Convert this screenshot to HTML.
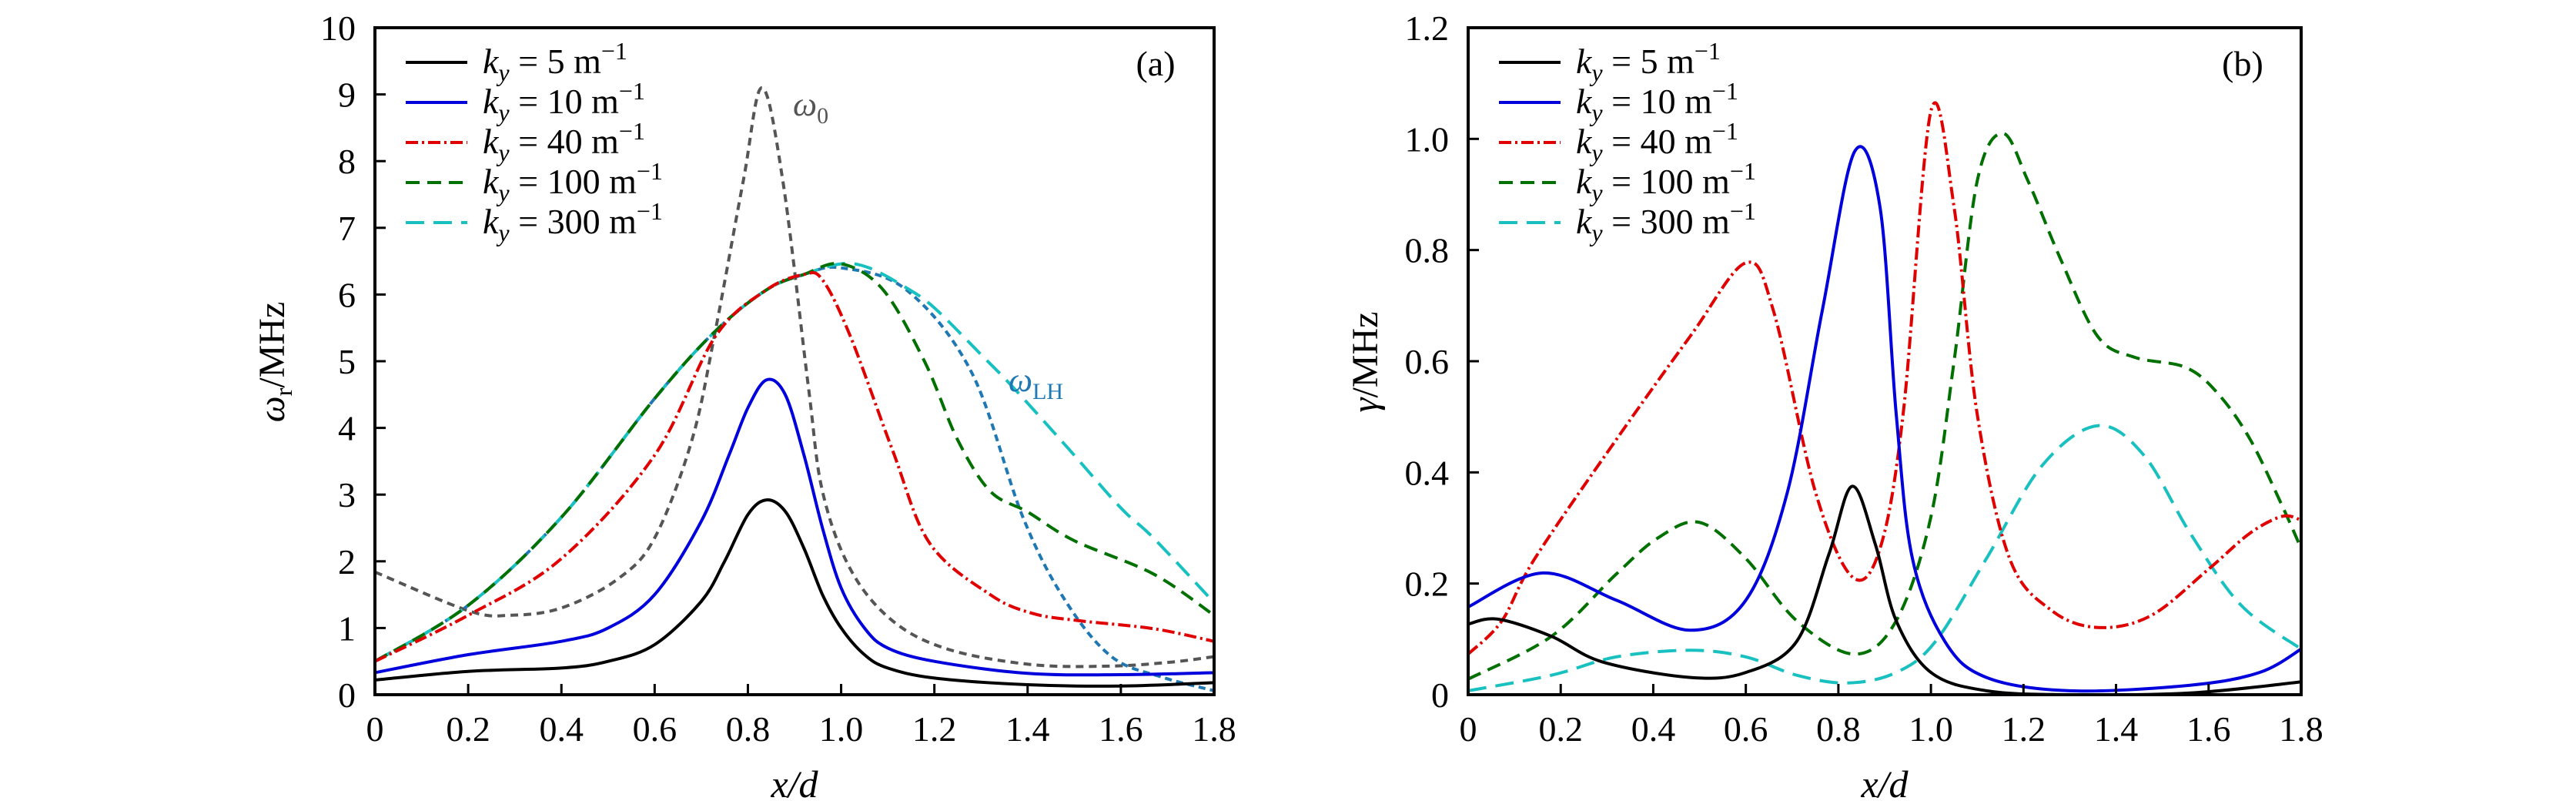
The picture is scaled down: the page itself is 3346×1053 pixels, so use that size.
<!DOCTYPE html>
<html><head><meta charset="utf-8"><style>
html,body{margin:0;padding:0;background:#fff;}
svg{display:block;font-family:"Liberation Serif",serif;}
</style></head><body>
<svg id="fig" width="3346" height="1053" viewBox="0 0 3346 1053" xmlns="http://www.w3.org/2000/svg"></svg>
<script>
// ---------- Panel (a) data ----------
const aX_k5=[0,0.2,0.4,0.5,0.6,0.7,0.75,0.8,0.84,0.88,0.92,0.96,1.0,1.05,1.1,1.2,1.4,1.6,1.8];
const aY_k5=[0.22,0.35,0.4,0.5,0.75,1.4,2.0,2.7,2.92,2.75,2.2,1.5,1.0,0.6,0.4,0.25,0.15,0.13,0.18];
const aX_k10=[0,0.2,0.4,0.5,0.6,0.7,0.76,0.8,0.84,0.88,0.92,0.96,1.0,1.05,1.1,1.2,1.4,1.6,1.8];
const aY_k10=[0.33,0.6,0.8,1.0,1.5,2.6,3.6,4.3,4.72,4.5,3.6,2.5,1.6,1.0,0.7,0.5,0.32,0.3,0.33];
const aX_k40=[0,0.2,0.4,0.6,0.73,0.84,0.92,0.96,1.02,1.11,1.19,1.32,1.41,1.51,1.67,1.8];
const aY_k40=[0.5,1.19,2.04,3.59,5.37,6.07,6.3,6.22,5.37,3.67,2.27,1.5,1.22,1.11,0.99,0.8];
const aX_k100=[0,0.2,0.4,0.6,0.73,0.84,0.92,1.0,1.09,1.18,1.25,1.32,1.4,1.5,1.67,1.8];
const aY_k100=[0.5,1.34,2.66,4.44,5.45,6.07,6.3,6.46,6.07,4.98,3.82,3.05,2.74,2.31,1.81,1.19];
const aX_k300=[0,0.2,0.4,0.6,0.73,0.84,0.92,1.0,1.06,1.14,1.2,1.3,1.37,1.49,1.6,1.67,1.8];
const aY_k300=[0.5,1.34,2.66,4.44,5.45,6.07,6.3,6.46,6.4,6.1,5.8,5.1,4.6,3.67,2.8,2.35,1.38];
const aX_w0=[0,0.2,0.29,0.4,0.52,0.6,0.68,0.73,0.79,0.83,0.875,0.93,0.96,1.02,1.11,1.23,1.41,1.58,1.71,1.8];
const aY_w0=[1.84,1.26,1.19,1.3,1.73,2.35,3.82,5.45,7.7,9.1,7.7,4.6,3.05,1.88,1.11,0.68,0.45,0.43,0.49,0.57];
const aX_wLH=[0,0.2,0.4,0.6,0.73,0.84,0.92,1.0,1.14,1.28,1.39,1.48,1.58,1.69,1.8];
const aY_wLH=[0.5,1.34,2.66,4.44,5.45,6.07,6.3,6.4,6.07,4.83,2.66,1.42,0.57,0.26,0.06];
const aYTicks=[0,1,2,3,4,5,6,7,8,9,10];
const xTicks=[0,0.2,0.4,0.6,0.8,1.0,1.2,1.4,1.6,1.8];
const xTickLabels=["0","0.2","0.4","0.6","0.8","1.0","1.2","1.4","1.6","1.8"];
// ---------- Panel (b) data ----------
const bX_k5=[0,0.064,0.18,0.29,0.48,0.6,0.71,0.78,0.83,0.88,0.925,1.0,1.12,1.3,1.56,1.8];
const bY_k5=[0.127,0.136,0.105,0.059,0.031,0.04,0.096,0.254,0.375,0.27,0.133,0.04,0.007,0.0,0.003,0.023];
const bX_k10=[0,0.16,0.32,0.48,0.6,0.69,0.765,0.835,0.89,0.925,0.96,1.03,1.12,1.3,1.56,1.71,1.8];
const bY_k10=[0.158,0.219,0.17,0.116,0.17,0.365,0.69,0.977,0.877,0.505,0.245,0.096,0.031,0.007,0.017,0.04,0.082];
const bX_k40=[0,0.073,0.144,0.32,0.48,0.6,0.66,0.75,0.83,0.89,0.94,1.0,1.05,1.1,1.17,1.26,1.36,1.475,1.6,1.69,1.76,1.8];
const bY_k40=[0.073,0.133,0.245,0.459,0.645,0.777,0.69,0.366,0.212,0.263,0.505,1.05,0.877,0.505,0.245,0.152,0.121,0.142,0.226,0.291,0.321,0.314];
const bX_k100=[0,0.18,0.32,0.41,0.5,0.6,0.71,0.835,0.925,1.0,1.05,1.1,1.155,1.21,1.28,1.36,1.44,1.55,1.62,1.69,1.76,1.8];
const bY_k100=[0.028,0.105,0.217,0.282,0.31,0.245,0.133,0.073,0.133,0.32,0.6,0.924,1.01,0.924,0.784,0.645,0.607,0.589,0.542,0.459,0.338,0.263];
const bX_k300=[0,0.18,0.32,0.48,0.6,0.71,0.82,0.925,1.01,1.12,1.24,1.36,1.46,1.56,1.67,1.8];
const bY_k300=[0.007,0.035,0.068,0.08,0.068,0.035,0.021,0.04,0.096,0.245,0.412,0.484,0.431,0.291,0.161,0.082];
const bYTicks=[0,0.2,0.4,0.6,0.8,1.0,1.2];
const bYTickLabels=["0","0.2","0.4","0.6","0.8","1.0","1.2"];

const NS="http://www.w3.org/2000/svg";
const svg=document.getElementById('fig');
function mk(tag,attrs,parent){const e=document.createElementNS(NS,tag);for(const k in attrs)e.setAttribute(k,attrs[k]);(parent||svg).appendChild(e);return e;}

function smoothPath(xs,ys,sx,sy){
  const P=xs.map((x,i)=>[sx(x),sy(ys[i])]);
  let d="M"+P[0][0].toFixed(1)+","+P[0][1].toFixed(1);
  for(let i=0;i<P.length-1;i++){
    const p0=P[i-1]||P[i],p1=P[i],p2=P[i+1],p3=P[i+2]||P[i+1];
    const c1=[p1[0]+(p2[0]-p0[0])/6,p1[1]+(p2[1]-p0[1])/6];
    const c2=[p2[0]-(p3[0]-p1[0])/6,p2[1]-(p3[1]-p1[1])/6];
    d+=" C"+c1[0].toFixed(1)+","+c1[1].toFixed(1)+" "+c2[0].toFixed(1)+","+c2[1].toFixed(1)+" "+p2[0].toFixed(1)+","+p2[1].toFixed(1);
  }
  return d;
}

const styles={
 k5:{c:"#000000",d:"none"},
 k10:{c:"#0000dd",d:"none"},
 k40:{c:"#e00000",d:"16,5,3,5"},
 k100:{c:"#007000",d:"18,10"},
 k300:{c:"#18c0c0",d:"24,12"},
 w0:{c:"#555555",d:"10,7"},
 wLH:{c:"#1f78b4",d:"9,6"}
};

function panel(opt){
  const g=mk('g',{});
  
  
  const L=opt.L,R=opt.R,T=36,B=902;
  const sx=v=>L+(v/1.8)*(R-L);
  const sy=v=>B-(v/opt.ymax)*(B-T);
  const clip=mk('clipPath',{id:'clip'+opt.id},g);
  mk('rect',{x:L,y:T,width:R-L,height:B-T},clip);
  const cg=mk('g',{'clip-path':'url(#clip'+opt.id+')'},g);
  opt.series.forEach(s=>{
    const st=styles[s.k];
    const p=mk('path',{d:smoothPath(s.x,s.y,sx,sy),fill:"none",stroke:st.c,'stroke-width':4,'stroke-dasharray':st.d},cg);
    
    
  });
  const fr=mk('rect',{x:L,y:T,width:R-L,height:B-T,fill:"none",stroke:"#000",'stroke-width':4},g);
  
  
  xTicks.forEach((t,i)=>{
    mk('line',{x1:sx(t),x2:sx(t),y1:B,y2:B-14,stroke:"#000",'stroke-width':3},g);
    const tx=mk('text',{x:sx(t),y:962,'font-size':46,'text-anchor':'middle'},g);
    tx.textContent=xTickLabels[i];
    
    
  });
  opt.yt.forEach((t,i)=>{
    mk('line',{x1:L,x2:L+14,y1:sy(t),y2:sy(t),stroke:"#000",'stroke-width':3},g);
    const tx=mk('text',{x:L-25,y:sy(t)+16,'font-size':46,'text-anchor':'end'},g);
    tx.textContent=opt.ytl[i];
    
    
  });
  const xt=mk('text',{x:(L+R)/2,y:1035,'font-size':50,'text-anchor':'middle','font-style':'italic'},g);
  xt.textContent="x/d";
  
  
  const yt=mk('text',{x:0,y:0,'font-size':48,'text-anchor':'middle',transform:'translate('+(L-118)+',470) rotate(-90)'},g);
  yt.innerHTML=opt.ytitle;
  
  
  const pl=mk('text',{x:R-76,y:98,'font-size':46,'text-anchor':'middle'},g);
  pl.textContent=opt.label;
  
  
  const leg=mk('g',{},g);
  
  
  const ents=[["k5","5"],["k10","10"],["k40","40"],["k100","100"],["k300","300"]];
  ents.forEach((e,i)=>{
    const y=81+i*52;
    const st=styles[e[0]];
    const eg=mk('g',{},leg);
    
    
    mk('line',{x1:L+40,x2:L+120,y1:y,y2:y,stroke:st.c,'stroke-width':4,'stroke-dasharray':st.d},eg);
    const t=mk('text',{x:L+140,y:y+14,'font-size':46},eg);
    t.innerHTML='<tspan font-style="italic">k</tspan><tspan font-style="italic" font-size="32" dy="10">y</tspan><tspan dy="-10"> = '+e[1]+' m</tspan><tspan font-size="32" dy="-18">−1</tspan>';
  });
  return {g,sx,sy};
}

const pa=panel({id:'a',name:'panel-a',L:487,R:1577,ymax:10,yt:aYTicks,ytl:aYTicks.map(String),label:"(a)",
 ytitle:'<tspan font-style="italic">ω</tspan><tspan font-size="32" dy="10">r</tspan><tspan dy="-10">/MHz</tspan>',
 series:[{k:'w0',x:aX_w0,y:aY_w0},{k:'wLH',x:aX_wLH,y:aY_wLH},{k:'k300',x:aX_k300,y:aY_k300},{k:'k100',x:aX_k100,y:aY_k100},{k:'k40',x:aX_k40,y:aY_k40},{k:'k10',x:aX_k10,y:aY_k10},{k:'k5',x:aX_k5,y:aY_k5}]});
const w0l=mk('text',{x:1030,y:150,'font-size':44,fill:'#555','font-style':'italic'},pa.g);
w0l.innerHTML='ω<tspan font-size="30" dy="10" font-style="normal">0</tspan>';


const lhl=mk('text',{x:1310,y:508,'font-size':44,fill:'#1f78b4','font-style':'italic'},pa.g);
lhl.innerHTML='ω<tspan font-size="30" dy="10" font-style="normal">LH</tspan>';



panel({id:'b',name:'panel-b',L:1907,R:2989,ymax:1.2,yt:bYTicks,ytl:bYTickLabels,label:"(b)",
 ytitle:'<tspan font-style="italic">γ</tspan><tspan>/MHz</tspan>',
 series:[{k:'k300',x:bX_k300,y:bY_k300},{k:'k100',x:bX_k100,y:bY_k100},{k:'k40',x:bX_k40,y:bY_k40},{k:'k10',x:bX_k10,y:bY_k10},{k:'k5',x:bX_k5,y:bY_k5}]});
</script>
</body></html>
